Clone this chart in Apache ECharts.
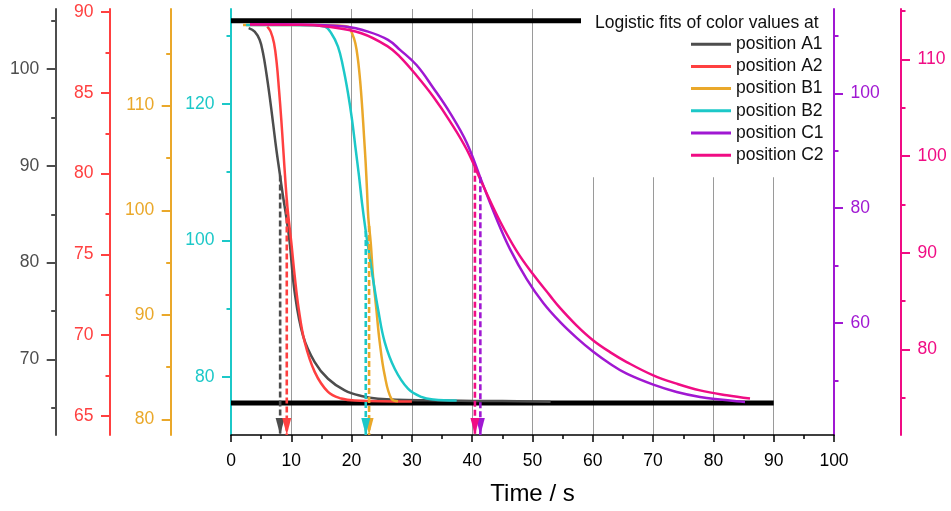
<!DOCTYPE html>
<html>
<head>
<meta charset="utf-8">
<script src="https://cdn.jsdelivr.net/npm/echarts@6/dist/echarts.min.js"></script>
<style>
  html, body { margin: 0; padding: 0; background: #fff; }
  #chart { width: 951px; height: 511px; }
</style>
</head>
<body>
<div id="chart"></div>
<script>
// Series names and colours (one y axis per series, same colour)
const seriesNames = ['position A1', 'position A2', 'position B1', 'position B2', 'position C1', 'position C2'];
const seriesColors = ['#4d4d4d', '#ff4040', '#eaa82a', '#1cc8c8', '#a018d2', '#f00c84'];

// Logistic fit curves: [time (s), colour value on the series' own axis]
const fitA1 = [[2.93,104.22],[3.93,103.87],[4.75,103.02],[5.31,101.65],[5.86,99.59],[6.41,97.18],[6.97,94.44],[7.52,91.69],[8.07,89.29],[8.62,86.88],[9.18,84.66],[9.73,82.09],[10.56,76.94],[11.94,72.47],[13.88,69.73],[16.09,68.01],[18.86,66.81],[21.61,66.23],[24.38,65.95],[32.67,65.78],[45,65.7],[53,65.64]];
const fitA2 = [[6.02,89.11],[6.58,88.8],[7.13,88.09],[7.58,86.85],[7.96,85.2],[8.34,83.35],[8.67,81.5],[9.0,79.65],[9.34,78.0],[10.0,75.74],[10.56,73.68],[11.23,71.62],[12.22,69.57],[13.88,67.72],[16.09,66.48],[18.29,66.07],[20.51,65.94],[30,65.88]];
const fitB1 = [[1.99,117.71],[11.44,117.71],[17.25,117.67],[19.4,117.55],[20.07,116.92],[20.62,115.97],[21.06,114.38],[21.45,112.16],[21.78,109.62],[22.06,107.08],[22.33,104.54],[22.55,102.0],[22.77,99.3],[23.17,96.92],[23.55,93.74],[24.1,90.57],[24.66,87.4],[25.49,84.22],[26.58,82.0],[27.69,81.74]];
const fitB2 = [[2.5,131.58],[9.78,131.58],[13.1,131.53],[15.54,131.33],[16.63,130.36],[17.74,128.41],[18.57,125.49],[19.4,121.61],[20.07,117.71],[20.68,113.33],[21.23,109.43],[21.72,105.55],[22.3,101.65],[22.97,97.75],[23.63,93.91],[24.38,89.96],[25.49,85.11],[27.15,81.21],[29.35,78.29],[31.56,77.08],[33.55,76.69],[37.43,76.55]];
const fitC1 = [[3.15,112.05],[11.44,112.02],[18.86,111.64],[22.72,110.77],[26.04,109.33],[28.03,107.59],[30.8,104.9],[33.55,100.94],[36.32,96.6],[39.09,91.39],[41.58,84.66],[44.06,78.06],[46.27,72.85],[49.04,67.64],[51.79,63.47],[54.56,60.17],[57.33,57.39],[60.08,54.96],[62.85,52.88],[65.62,51.14],[70.03,49.23],[73.91,47.96],[77.78,47.09],[81.09,46.63],[83.86,46.33],[85.24,46.23]];
const fitC2 = [[3.15,113.63],[11.44,113.6],[16.09,113.4],[21.61,112.72],[26.04,111.34],[28.03,110.28],[30.8,108.32],[33.55,106.15],[36.32,103.61],[39.09,100.69],[41.84,96.91],[44.61,93.27],[47.38,90.18],[50.13,87.75],[52.9,85.57],[54.56,84.3],[57.33,82.47],[60.08,80.93],[62.85,79.73],[65.62,78.7],[70.03,77.32],[73.91,76.46],[77.78,75.77],[82.21,75.26],[86.07,74.92]];
const fits = [fitA1, fitA2, fitB1, fitB2, fitC1, fitC2];

// Characteristic times marked by the dashed arrows, and the curve value where each arrow starts
const arrowTimes = [8.15, 9.25, 22.9, 22.35, 41.35, 40.45];
const arrowLevels = [89.0, 78.4, 98.5, 101.4, 85.4, 98.9];

// Upper and lower plateau levels (on the B2 axis) and their time span
const upperLevel = 132.2;
const lowerLevel = 76.2;
const levelSpan = [0, 90];

// Y axes: ranges and labelled tick values
const axisRanges = [[62.2, 106.2], [63.81, 90.2], [78.52, 119.24], [71.5, 133.91], [40.46, 114.71], [71.15, 115.23]];
const axisTicks = [[70, 80, 90, 100], [65, 70, 75, 80, 85, 90], [80, 90, 100, 110], [80, 100, 120], [60, 80, 100], [80, 90, 100, 110]];
const axisSplits = [4, 5, 4, 3, 4, 4];
const axisSides = ['left', 'left', 'left', 'left', 'right', 'right'];
const axisOffsets = [175.3, 121, 60.3, 0, 0, 67];

// X axis
const timeRange = [0, 100];
const timeStep = 10;

const FONT = '"Liberation Sans", Arial, sans-serif';

const yAxes = axisRanges.map((r, i) => ({
  type: 'value',
  min: r[0],
  max: r[1],
  splitNumber: axisSplits[i],
  position: axisSides[i],
  offset: axisOffsets[i],
  axisLine: { show: true, onZero: false, lineStyle: { color: seriesColors[i], width: 2 } },
  axisTick: { show: true, length: 9, customValues: axisTicks[i], lineStyle: { color: seriesColors[i], width: 2 } },
  minorTick: { show: true, splitNumber: 2, length: 4.5, lineStyle: { color: seriesColors[i], width: 2 } },
  axisLabel: { customValues: axisTicks[i], color: seriesColors[i], fontSize: 17.5, fontFamily: FONT, margin: 16.5 },
  splitLine: { show: false },
  minorSplitLine: { show: false }
}));

const curveSeries = fits.map((d, i) => ({
  name: seriesNames[i],
  type: 'line',
  yAxisIndex: i,
  data: d,
  smooth: 0.4,
  symbol: 'none',
  z: 2,
  color: seriesColors[i],
  lineStyle: { width: 2.5, color: seriesColors[i] }
}));

const arrowSeries = arrowTimes.map((t, i) => ({
  name: seriesNames[i] + ' t',
  type: 'line',
  yAxisIndex: i,
  clip: false,
  z: 3,
  symbol: 'triangle',
  showSymbol: true,
  showAllSymbol: true,
  silent: true,
  data: [
    { value: [t, arrowLevels[i]], symbol: 'none' },
    { value: [t, axisRanges[i][0]], symbol: 'triangle', symbolSize: [9, 17], symbolRotate: 180, symbolOffset: [0, '-50%'] }
  ],
  itemStyle: { color: seriesColors[i] },
  lineStyle: { width: 2.6, type: [6, 3], color: seriesColors[i] }
}));

const levelSeries = [upperLevel, lowerLevel].map((lv) => ({
  type: 'line',
  yAxisIndex: 3,
  z: 1,
  symbol: 'none',
  silent: true,
  data: [[levelSpan[0], lv], [levelSpan[1], lv]],
  lineStyle: { width: 5, color: '#000' }
}));

const chart = echarts.init(document.getElementById('chart'), null, { renderer: 'canvas' });
chart.setOption({
  animation: false,
  backgroundColor: '#fff',
  grid: { left: 231, right: 117, top: 9, bottom: 74.5, containLabel: false },
  xAxis: {
    type: 'value',
    min: timeRange[0],
    max: timeRange[1],
    interval: timeStep,
    name: 'Time / s',
    nameLocation: 'middle',
    nameGap: 47,
    nameTextStyle: { fontSize: 24, color: '#000', fontFamily: FONT },
    axisLine: { onZero: false, lineStyle: { color: '#000', width: 1.5 } },
    axisTick: { length: 7, lineStyle: { color: '#000', width: 1.5 } },
    minorTick: { show: true, splitNumber: 2, length: 4, lineStyle: { color: '#000', width: 1.5 } },
    axisLabel: { color: '#000', fontSize: 17.5, fontFamily: FONT, margin: 17 },
    splitLine: { show: true, showMinLine: false, showMaxLine: false, lineStyle: { color: '#9a9a9a', width: 1 } }
  },
  yAxis: yAxes,
  legend: {
    data: seriesNames,
    orient: 'vertical',
    left: 581,
    top: 9,
    padding: [24.2, 8, 11, 110],
    backgroundColor: '#fff',
    icon: 'rect',
    itemWidth: 40,
    itemHeight: 3,
    itemGap: 0.2,
    selectedMode: false,
    textStyle: { fontSize: 17.5, lineHeight: 22, color: '#111', fontFamily: FONT }
  },
  graphic: [{
    type: 'text',
    x: 595,
    y: 22.7,
    z: 100,
    style: { text: 'Logistic fits of color values at', font: '17.5px ' + FONT, fill: '#111', verticalAlign: 'middle' }
  }],
  series: [...levelSeries, ...curveSeries, ...arrowSeries]
});
</script>
</body>
</html>
